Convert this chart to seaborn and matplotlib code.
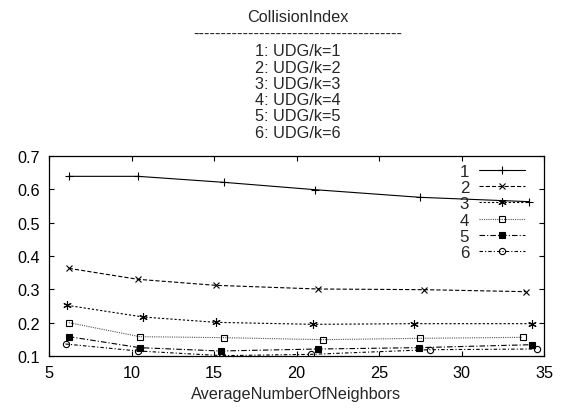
import matplotlib
matplotlib.use("Agg")
import matplotlib.pyplot as plt
import seaborn as sns
import pandas as pd

# Collision index vs. average number of neighbours, one series per k
series_labels = ["1", "2", "3", "4", "5", "6"]
key_titles = ["1: UDG/k=1", "2: UDG/k=2", "3: UDG/k=3",
              "4: UDG/k=4", "5: UDG/k=5", "6: UDG/k=6"]

x_k1 = [6.2, 10.4, 15.6, 21.1, 27.5, 34.1]
y_k1 = [0.639, 0.639, 0.621, 0.599, 0.576, 0.563]
x_k2 = [6.2, 10.4, 15.1, 21.3, 27.7, 33.9]
y_k2 = [0.363, 0.330, 0.312, 0.301, 0.299, 0.293]
x_k3 = [6.1, 10.7, 15.1, 21.0, 27.1, 34.3]
y_k3 = [0.252, 0.217, 0.201, 0.195, 0.197, 0.197]
x_k4 = [6.2, 10.5, 15.6, 21.6, 27.5, 33.7]
y_k4 = [0.200, 0.158, 0.155, 0.149, 0.153, 0.156]
x_k5 = [6.2, 10.5, 15.4, 21.3, 27.4, 34.3]
y_k5 = [0.158, 0.125, 0.115, 0.121, 0.125, 0.134]
x_k6 = [6.0, 10.4, 15.5, 20.9, 28.1, 34.6]
y_k6 = [0.136, 0.115, 0.101, 0.105, 0.119, 0.121]

x_ticks = [5, 10, 15, 20, 25, 30, 35]
y_ticks = [0.1, 0.2, 0.3, 0.4, 0.5, 0.6, 0.7]

frames = []
for lab, xs, ys in zip(series_labels,
                       [x_k1, x_k2, x_k3, x_k4, x_k5, x_k6],
                       [y_k1, y_k2, y_k3, y_k4, y_k5, y_k6]):
    frames.append(pd.DataFrame({"neighbors": xs, "collision": ys, "series": lab}))
df = pd.concat(frames, ignore_index=True)

sns.set_theme(style="ticks")
plt.rcParams["font.family"] = ["Liberation Sans", "DejaVu Sans"]
plt.rcParams["lines.scale_dashes"] = False

FS = 11.7

styles = {
    "1": dict(ls="-", marker="+", ms=6, mfc="none", color="black"),
    "2": dict(ls=(0, (3.0, 1.5)), marker="x", ms=4.5, mfc="none", color="black"),
    "3": dict(ls=(0, (1.6, 1.4)), marker=(6, 2, 0), ms=6, mfc="none", color="black"),
    "4": dict(ls=(0, (0.8, 0.8)), marker="s", ms=5, mfc="none", color="#555555"),
    "5": dict(ls=(0, (4.0, 1.5, 0.8, 1.5)), marker="s", ms=5, mfc="black", color="black"),
    "6": dict(ls=(0, (2.5, 1.5, 0.8, 1.5)), marker="o", ms=4.5, mfc="none", color="black"),
}

fig = plt.figure(figsize=(5.63, 4.10), dpi=100)
ax = fig.add_axes([49 / 563, 1 - 357 / 410, 495 / 563, 200 / 410])

for lab in series_labels:
    st = styles[lab]
    sub = df[df["series"] == lab]
    sns.lineplot(data=sub, x="neighbors", y="collision", ax=ax,
                 color=st["color"], linestyle=st["ls"], linewidth=0.8,
                 marker=st["marker"], markersize=st["ms"],
                 markerfacecolor=st["mfc"], markeredgecolor="black",
                 markeredgewidth=0.8, label=lab, sort=False)

ax.set_xlim(5, 35)
ax.set_ylim(0.1, 0.7)
ax.set_xticks(x_ticks)
ax.set_yticks(y_ticks)
ax.set_xticklabels([str(v) for v in x_ticks])
ax.set_yticklabels([f"{v:.1f}" for v in y_ticks])
ax.tick_params(direction="in", length=3.5, width=0.8, labelsize=FS,
               top=True, right=True, pad=6.5, colors="black")
for sp in ax.spines.values():
    sp.set_visible(True)
    sp.set_color("black")
    sp.set_linewidth(0.9)
ax.set_xlabel("AverageNumberOfNeighbors", fontsize=FS, labelpad=4)
ax.set_ylabel("")

leg = ax.legend(loc="upper right", bbox_to_anchor=(0.962, 0.96),
                frameon=False, markerfirst=False, fontsize=FS + 0.5,
                handlelength=2.7, handletextpad=0.6, labelspacing=0.07,
                borderpad=0, borderaxespad=0)

# Key title block above the axes
cx = 298 / 563
fig.text(cx, 1 - 18 / 410, "CollisionIndex", ha="center", va="center", fontsize=FS)
fig.text(cx, 1 - 34 / 410, "-" * 38, ha="center", va="center", fontsize=FS)
for i, t in enumerate(key_titles):
    fig.text(cx, 1 - (52 + 16.2 * i) / 410, t, ha="center", va="center", fontsize=FS)

fig.savefig("out.png", dpi=100)
